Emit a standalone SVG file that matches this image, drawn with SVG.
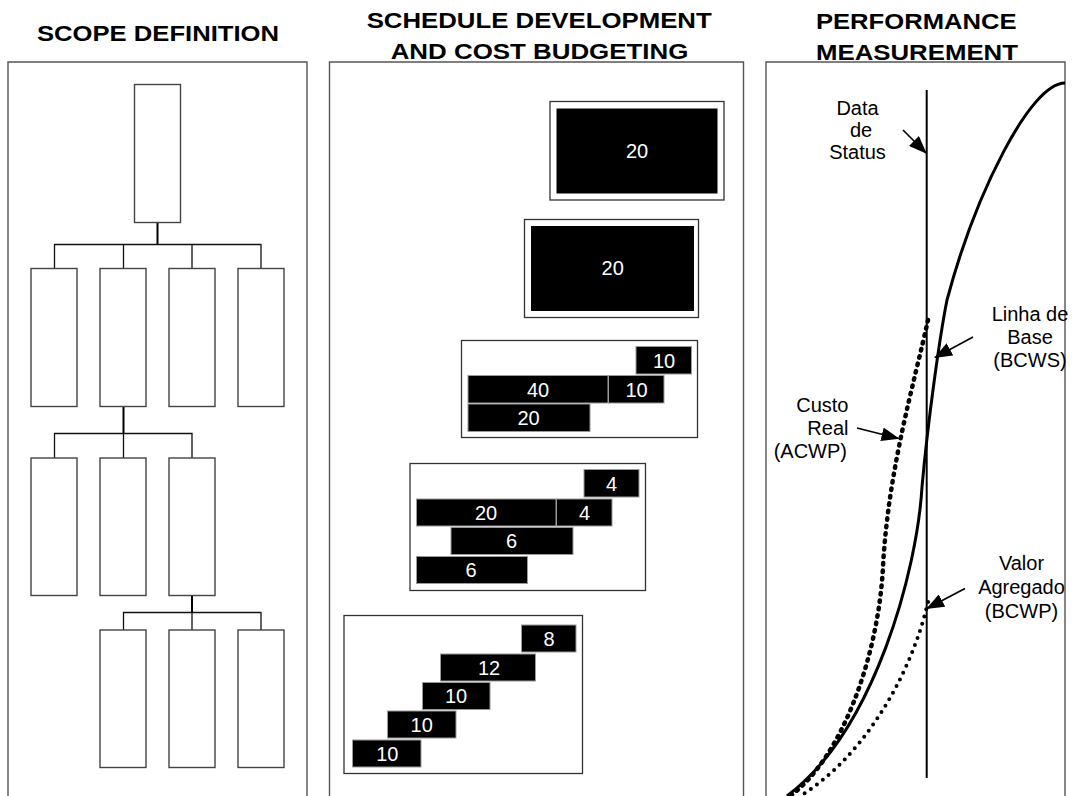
<svg xmlns="http://www.w3.org/2000/svg" width="1073" height="796" viewBox="0 0 1073 796">
<style>
.title{font-family:"Liberation Sans",Arial,sans-serif;font-weight:bold;font-size:22px;fill:#000}
.lbl{font-family:"Liberation Sans",Arial,sans-serif;font-size:20px;fill:#000}
.num{font-family:"Liberation Sans",Arial,sans-serif;font-size:20px;fill:#fff;text-anchor:middle}
.panel{fill:none;stroke:#555;stroke-width:1.4}
.wbs{fill:#fff;stroke:#444;stroke-width:1.4}
.con{fill:none;stroke:#111;stroke-width:1.3}
.drop{fill:none;stroke:#000;stroke-width:2}
.frame{fill:#fff;stroke:#333;stroke-width:1.3}
.bar{fill:#000;stroke:#999;stroke-width:1}
.arr{fill:none;stroke:#000;stroke-width:1.7;marker-end:url(#ah)}
</style>
<defs>
<marker id="ah" viewBox="0 0 18 14" refX="17" refY="7" markerWidth="18" markerHeight="14" orient="auto" markerUnits="userSpaceOnUse"><path d="M0,0 L18,7 L0,14 z" fill="#000"/></marker>
</defs>
<rect x="0" y="0" width="1073" height="796" fill="#fff"/>

<g id="titles">
<text class="title" x="158" y="41" text-anchor="middle" textLength="242" lengthAdjust="spacingAndGlyphs">SCOPE DEFINITION</text>
<text class="title" x="539.2" y="27.5" text-anchor="middle" textLength="345" lengthAdjust="spacingAndGlyphs">SCHEDULE DEVELOPMENT</text>
<text class="title" x="539.5" y="58.5" text-anchor="middle" textLength="297.6" lengthAdjust="spacingAndGlyphs">AND COST BUDGETING</text>
<text class="title" x="916.3" y="29" text-anchor="middle" textLength="200.7" lengthAdjust="spacingAndGlyphs">PERFORMANCE</text>
<text class="title" x="917" y="59.5" text-anchor="middle" textLength="202" lengthAdjust="spacingAndGlyphs">MEASUREMENT</text>
</g>

<g id="panels">
<path class="panel" d="M8,800 V62 H307 V800"/>
<path class="panel" d="M329.5,800 V62 H743.5 V800"/>
<path class="panel" d="M766,800 V62 H1065 V800"/>
</g>

<g id="connectors">
<path class="drop" d="M157.5,222.5 V244.5"/>
<path class="con" d="M54.5,268.5 V244.5 H261 V268.5 M123.5,244.5 V268.5 M192,244.5 V268.5"/>
<path class="drop" d="M123.5,406.5 V433.5"/>
<path class="con" d="M54.5,458 V433.5 H192 V458 M123.5,433.5 V458"/>
<path class="drop" d="M192,595.5 V612.5"/>
<path class="con" d="M123.5,630 V612.5 H261 V630 M192,612.5 V630"/>
<path class="arr" d="M903,130 L926,153"/>
<path class="arr" d="M973,337 L935,357.5"/>
<path class="arr" d="M857,428 L898.5,438.5"/>
<path class="arr" d="M965,588.5 L927,608.5"/>
</g>

<g id="wbs-root"><rect class="wbs" x="134.5" y="84.5" width="46" height="138"/></g>
<g id="wbs-1"><rect class="wbs" x="31" y="268.5" width="46" height="138"/></g>
<g id="wbs-2"><rect class="wbs" x="100" y="268.5" width="46" height="138"/></g>
<g id="wbs-3"><rect class="wbs" x="169" y="268.5" width="46" height="138"/></g>
<g id="wbs-4"><rect class="wbs" x="238" y="268.5" width="46" height="138"/></g>
<g id="wbs-2-1"><rect class="wbs" x="31" y="458" width="46" height="137.5"/></g>
<g id="wbs-2-2"><rect class="wbs" x="100" y="458" width="46" height="137.5"/></g>
<g id="wbs-2-3"><rect class="wbs" x="169" y="458" width="46" height="137.5"/></g>
<g id="wbs-2-3-1"><rect class="wbs" x="100" y="630" width="46" height="137.5"/></g>
<g id="wbs-2-3-2"><rect class="wbs" x="169" y="630" width="46" height="137.5"/></g>
<g id="wbs-2-3-3"><rect class="wbs" x="238" y="630" width="46" height="137.5"/></g>

<g id="sched-a">
<rect class="frame" x="550" y="101.5" width="174" height="98.5"/>
<rect x="556.5" y="108.5" width="161" height="85" fill="#000"/>
<text class="num" x="637" y="158">20</text>
</g>
<g id="sched-b">
<rect class="frame" x="524.5" y="219.5" width="174" height="98"/>
<rect x="531" y="226" width="163" height="85" fill="#000"/>
<text class="num" x="612.7" y="275">20</text>
</g>
<g id="sched-c">
<rect class="frame" x="461.5" y="340.5" width="236" height="97"/>
<rect class="bar" x="636" y="346.5" width="55.5" height="27.5"/><text class="num" x="664" y="367.5">10</text>
<rect class="bar" x="468" y="375.5" width="140" height="27.5"/><text class="num" x="538" y="396.5">40</text>
<rect class="bar" x="608.5" y="375.5" width="55.5" height="27.5"/><text class="num" x="636.5" y="396.5">10</text>
<rect class="bar" x="468" y="404" width="122" height="27.5"/><text class="num" x="528.5" y="425">20</text>
</g>
<g id="sched-d">
<rect class="frame" x="410" y="463.5" width="235.5" height="127"/>
<rect class="bar" x="584" y="469.5" width="55" height="27.5"/><text class="num" x="611.5" y="490.5">4</text>
<rect class="bar" x="416.5" y="499" width="139.5" height="27"/><text class="num" x="486" y="519.5">20</text>
<rect class="bar" x="556.5" y="499" width="55.5" height="27"/><text class="num" x="584.5" y="519.5">4</text>
<rect class="bar" x="451" y="527.5" width="122" height="27"/><text class="num" x="511.5" y="548">6</text>
<rect class="bar" x="416.5" y="556.5" width="111" height="27"/><text class="num" x="471" y="577">6</text>
</g>
<g id="sched-e">
<rect class="frame" x="344" y="615.5" width="238.5" height="158"/>
<rect class="bar" x="521.5" y="625" width="54.5" height="27"/><text class="num" x="549" y="645.5">8</text>
<rect class="bar" x="440.5" y="654" width="95" height="27"/><text class="num" x="489" y="674.5">12</text>
<rect class="bar" x="422.5" y="682.5" width="67.5" height="27"/><text class="num" x="456" y="703">10</text>
<rect class="bar" x="387.5" y="711" width="68.5" height="27"/><text class="num" x="421.7" y="731.5">10</text>
<rect class="bar" x="352.5" y="740" width="68.5" height="27"/><text class="num" x="387.3" y="760.5">10</text>
</g>

<g id="status-line">
<line x1="926.7" y1="90" x2="926.7" y2="778" stroke="#000" stroke-width="2"/>
</g>
<g id="bcws-curve">
<path d="M1065,83 C1030,83 975,195 947,300 C940,335 928,420 922,487 C917,570 875,730 787,796" fill="none" stroke="#000" stroke-width="3"/>
</g>
<g id="acwp-curve">
<path d="M928,320 C915,380 888,470 883,567 C878,660 840,760 790,796" fill="none" stroke="#000" stroke-width="4.5" stroke-dasharray="1.5 6" stroke-linecap="round"/>
</g>
<g id="bcwp-curve">
<path d="M928,602 C910,680 860,760 800,796" fill="none" stroke="#000" stroke-width="4" stroke-dasharray="0 7.5" stroke-linecap="round"/>
</g>

<g id="label-status">
<text class="lbl" x="857.5" y="115" text-anchor="middle">Data</text>
<text class="lbl" x="861" y="137" text-anchor="middle">de</text>
<text class="lbl" x="857.5" y="159" text-anchor="middle">Status</text>
</g>
<g id="label-bcws">
<text class="lbl" x="1030" y="320.5" text-anchor="middle">Linha de</text>
<text class="lbl" x="1030" y="343.5" text-anchor="middle">Base</text>
<text class="lbl" x="1030" y="366.5" text-anchor="middle">(BCWS)</text>
</g>
<g id="label-acwp">
<text class="lbl" x="848.5" y="411.5" text-anchor="end">Custo</text>
<text class="lbl" x="848.5" y="434.5" text-anchor="end">Real</text>
<text class="lbl" x="847" y="457.5" text-anchor="end">(ACWP)</text>
</g>
<g id="label-bcwp">
<text class="lbl" x="1021.5" y="569.5" text-anchor="middle">Valor</text>
<text class="lbl" x="1021.5" y="593.5" text-anchor="middle">Agregado</text>
<text class="lbl" x="1021.5" y="617.5" text-anchor="middle">(BCWP)</text>
</g>
</svg>
